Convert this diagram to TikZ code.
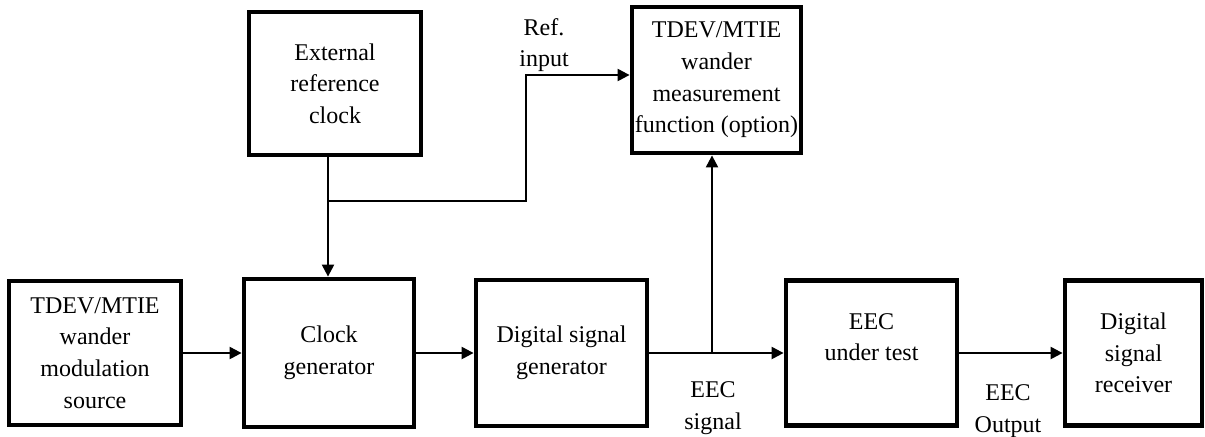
\documentclass[tikz,border=0pt]{standalone}
\usepackage{fontspec}
\setmainfont{Liberation Serif}
\usetikzlibrary{arrows.meta}
\begin{document}
\begin{tikzpicture}[x=0.5pt,y=-0.5pt,
  blk/.style={draw, line width=2.4pt, align=center, inner sep=0pt,
    font=\fontsize{12}{15.85}\selectfont},
  conn/.style={line width=1.1pt, -{Triangle[length=6pt,width=6pt]}},
  wire/.style={line width=1.1pt},
  lbl/.style={align=center, inner sep=0pt, font=\fontsize{12}{15.85}\selectfont}]
\useasboundingbox (0,0) rectangle (1205,436);
% boxes
\node[blk, minimum width=86pt, minimum height=72pt] (src) at (95,353)
  {TDEV/MTIE\\wander\\modulation\\source};
\node[blk, minimum width=85pt, minimum height=74pt] (clk) at (329,353)
  {Clock\\generator};
\node[blk, minimum width=85.5pt, minimum height=73pt] (dsg) at (561.5,353)
  {Digital signal\\generator};
\node[blk, minimum width=85.5pt, minimum height=72.5pt] (eec) at (871.5,353)
  {EEC\\under test\\\mbox{}};
\node[blk, minimum width=68.5pt, minimum height=72.5pt] (rcv) at (1133.5,353)
  {Digital\\signal\\receiver};
\node[blk, minimum width=86pt, minimum height=71.5pt] (ext) at (335,83.5)
  {External\\reference\\clock};
\node[blk, minimum width=84.5pt, minimum height=73pt] (meas) at (716.5,80)
  {TDEV/MTIE\\wander\\measurement\\function (option)};
% junctions
\coordinate (j1) at (328,201);
\coordinate (j1b) at (526,201);
\coordinate (j1c) at (526,75);
\coordinate (j2) at (712,353);
% connectors
\draw[conn] (src.east) -- (clk.west);
\draw[conn] (clk.east) -- (dsg.west);
\draw[wire] (dsg.east) -- (j2);
\draw[conn] (j2) -- (eec.west);
\draw[conn] (eec.east) -- (rcv.west);
\draw[conn] (j2) -- (j2 |- meas.south);
\draw[wire] (ext.south -| j1) -- (j1);
\draw[conn] (j1) -- (j1 |- clk.north);
\draw[conn] (j1) -- (j1b) -- (j1c) -- (j1c -| meas.west);
% labels
\node[lbl] (lref) at (544,45) {Ref.\\input};
\node[lbl] (lsig) at (713,408) {EEC\\signal};
\node[lbl] (lout) at (1008,411) {EEC\\Output};
\end{tikzpicture}
\end{document}
